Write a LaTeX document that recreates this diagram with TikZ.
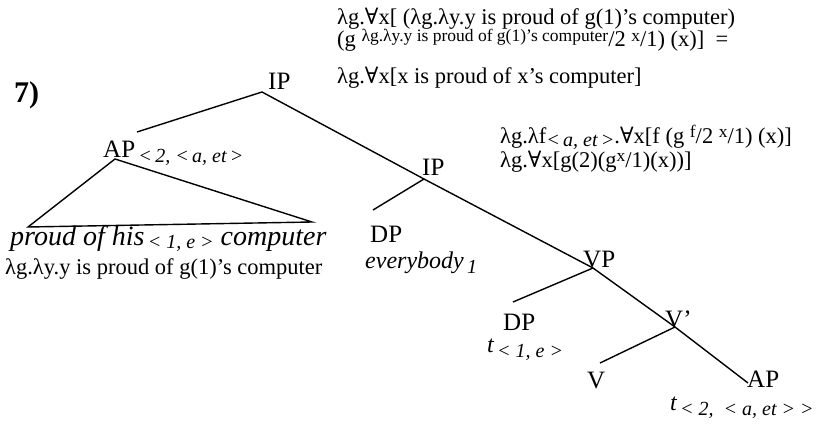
\documentclass[tikz,border=0pt]{standalone}
\usepackage{fontspec}
\setmainfont{Liberation Serif}
\newfontfamily\symfont{DejaVu Serif}
\usetikzlibrary{positioning}
\newcommand{\fa}{{\symfont ∀}}
\newcommand{\lo}[2][-0.5ex]{\raisebox{#1}{\fontsize{20}{20}\selectfont\itshape #2}}
\newcommand{\hi}[1]{\raisebox{0.55ex}{\fontsize{17.5}{18}\selectfont #1}}
\tikzset{
  cat/.style={font=\fontsize{25}{26}\selectfont, inner sep=0pt, anchor=base west},
  sem/.style={font=\fontsize{22.5}{23}\selectfont, inner sep=0pt, anchor=base west},
  wrd/.style={font=\fontsize{24}{25}\selectfont\itshape, inner sep=0pt, anchor=base west},
  br/.style={line width=1.4pt}}
\begin{document}
\begin{tikzpicture}[x=1pt, y=-1pt]
  \useasboundingbox (0,0) rectangle (819,428);
  \node[cat, font=\fontsize{30}{31}\selectfont\bfseries] (num) at (14,102) {7)};
  % tree
  \node[cat] (ip) at (268,89) {IP};
  \node[cat] (ap) at (103,157) {AP\lo{\,<\,2, <\,a, et\,>}};
  \node[cat] (ipb) at (422,175) {IP};
  \node[cat] (dp) at (370,242) {DP};
  \node[wrd] (every) at (365,268) {everybody\lo{\,1}};
  \node[cat] (vp) at (583,267) {VP};
  \node[cat] (dpt) at (503,330) {DP};
  \node[wrd] (tr) at (487,352) {t\lo{\,< 1, e >}};
  \node[cat] (vb) at (665,327) {V'};
  \node[cat] (v) at (587,388) {V};
  \node[cat] (apt) at (747,387) {AP};
  \node[wrd] (trb) at (670,410) {t\lo{\,< 2,\ \ < a, et >{} >}};
  \coordinate (ipj) at (262,92);
  \coordinate (apj) at (115,159);
  \coordinate (aptop) at (137,132);
  \coordinate (ipbj) at (424,179);
  \coordinate (vpj) at (593,268);
  \coordinate (vbj) at (675,327);
  \coordinate (dpj) at (373,210);
  \coordinate (dptj) at (513,302);
  \coordinate (vj) at (600,363);
  \coordinate (aptj) at (748,383);
  \coordinate (triL) at (28,227);
  \coordinate (triR) at (312,222);
  \draw[br] (aptop) -- (ipj) -- (ipbj) -- (vpj) -- (vbj) -- (aptj);
  \draw[br] (ipbj) -- (dpj);
  \draw[br] (vpj) -- (dptj);
  \draw[br] (vbj) -- (vj);
  \draw[br] (apj) -- (triL) -- (triR) -- cycle;
  % words and meanings
  \node[wrd, font=\fontsize{28}{29}\selectfont\itshape] (words) at (10,245) {proud of\ his\lo[-0.3ex]{\,< 1, e >} computer};
  \node[sem] (apsem) at (5,274) {λg.λy.y is proud of g(1)'s computer};
  \node[sem] (top1) at (337,25) {λg.\fa x[ (λg.λy.y is proud of g(1)'s computer)};
  \node[sem] (top2) at (337,47) {(g \hi{λg.λy.y is proud of g(1)'s computer}/2 \hi{x}/1) (x)]\ \ =};
  \node[sem] (top3) at (337,83) {λg.\fa x[x is proud of x's computer]};
  \node[sem] (mid1) at (500,143) {λg.λf\lo[-0.3ex]{<\,a, et\,>}.\fa x[f (g \hi{f}/2 \hi{x}/1) (x)]};
  \node[sem] (mid2) at (500,167) {λg.\fa x[g(2)(g\hi{x}/1)(x))]};
\end{tikzpicture}
\end{document}
